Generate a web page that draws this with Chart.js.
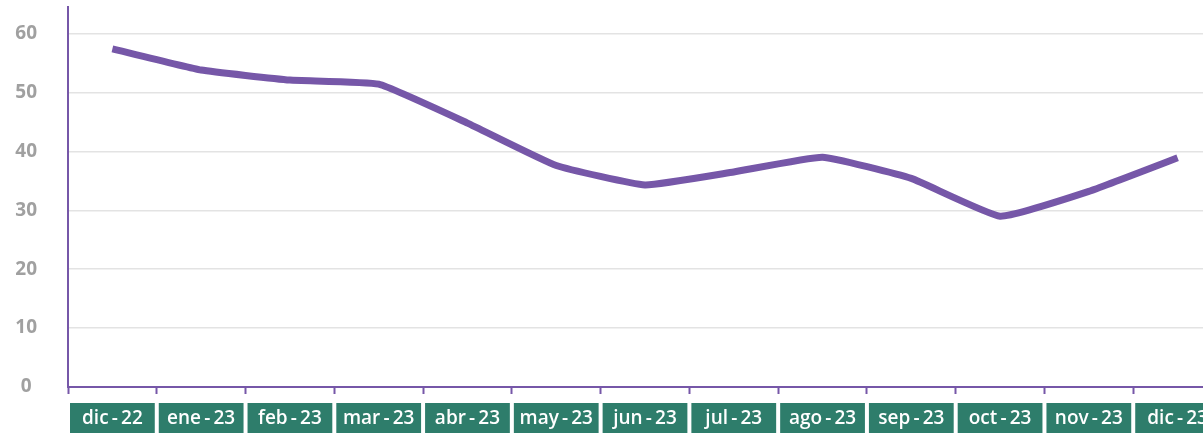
<!DOCTYPE html>
<html>
<head>
<meta charset="utf-8">
<script src="https://cdn.jsdelivr.net/npm/chart.js@4/dist/chart.umd.min.js"></script>
<style>
    html, body { margin: 0; padding: 0; background: #fff; overflow: hidden; }
    #wrap { width: 1222px; height: 433px; }
</style>
</head>
<body>
<div id="wrap"><canvas id="chart-trend"></canvas></div>
<script>
const months = ['dic-22', 'ene-23', 'feb-23', 'mar-23', 'abr-23', 'may-23', 'jun-23',
    'jul-23', 'ago-23', 'sep-23', 'oct-23', 'nov-23', 'dic-23'];
const values = [57.4, 53.8, 52.1, 51.4, 44.8, 37.6, 34.3, 36.5, 39.0, 35.4, 29.0, 33.2, 38.9];
const yTicks = [0, 10, 20, 30, 40, 50, 60];

const purple = '#7657a8';
const green = '#2e7d6b';

// green boxes behind the month labels
const labelBoxes = {
    id: 'labelBoxes',
    beforeDraw(chart) {
        const x = chart.scales.x;
        const ctx = chart.ctx;
        const half = (x.getPixelForValue(1) - x.getPixelForValue(0)) / 2;
        ctx.save();
        ctx.fillStyle = green;
        months.forEach((m, i) => {
            const c = x.getPixelForValue(i);
            ctx.fillRect(c - half + 2, 403, half * 2 - 4, 32);
        });
        ctx.restore();
    },
};

new Chart(document.getElementById('chart-trend'), {
    type: 'line',
    data: {
        labels: months,
        datasets: [{
            data: values,
            borderColor: purple,
            borderWidth: 7,
            borderCapStyle: 'butt',
            pointRadius: 0,
            fill: false,
            tension: 0.12,
        }],
    },
    options: {
        responsive: true,
        maintainAspectRatio: false,
        animation: false,
        layout: { padding: { top: 7, left: 0, right: 0, bottom: 0 } },
        plugins: {
            legend: { display: false },
            tooltip: { enabled: false },
        },
        scales: {
            x: {
                offset: true,
                grid: {
                    offset: true,
                    drawOnChartArea: false,
                    drawTicks: true,
                    tickLength: 7,
                    tickWidth: 2,
                    tickColor: purple,
                },
                border: { color: purple, width: 2 },
                ticks: {
                    color: '#ffffff',
                    font: { family: 'Open Sans', size: 19, weight: '600' },
                    padding: 13,
                    maxRotation: 0,
                    autoSkip: false,
                    callback(value) {
                        return months[value].replace('-', '\u2009-\u2009');
                    },
                },
                afterFit(scale) {
                    scale.height = 46;
                    scale.paddingLeft = 0;
                    scale.paddingRight = 0;
                },
            },
            y: {
                min: 0,
                max: 64.5,
                afterBuildTicks(scale) {
                    scale.ticks = yTicks.map(v => ({ value: v }));
                },
                grid: {
                    color: '#e3e3e3',
                    lineWidth: 1.5,
                    drawTicks: false,
                },
                border: { color: purple, width: 2 },
                ticks: {
                    color: '#a0a0a0',
                    font: { family: 'Open Sans', size: 19, weight: 'bold' },
                    padding: 31,
                    crossAlign: 'center',
                },
                afterFit(scale) {
                    scale.width = 68;
                    scale.paddingTop = 0;
                    scale.paddingBottom = 0;
                },
            },
        },
    },
    plugins: [labelBoxes],
});
</script>
</body>
</html>
